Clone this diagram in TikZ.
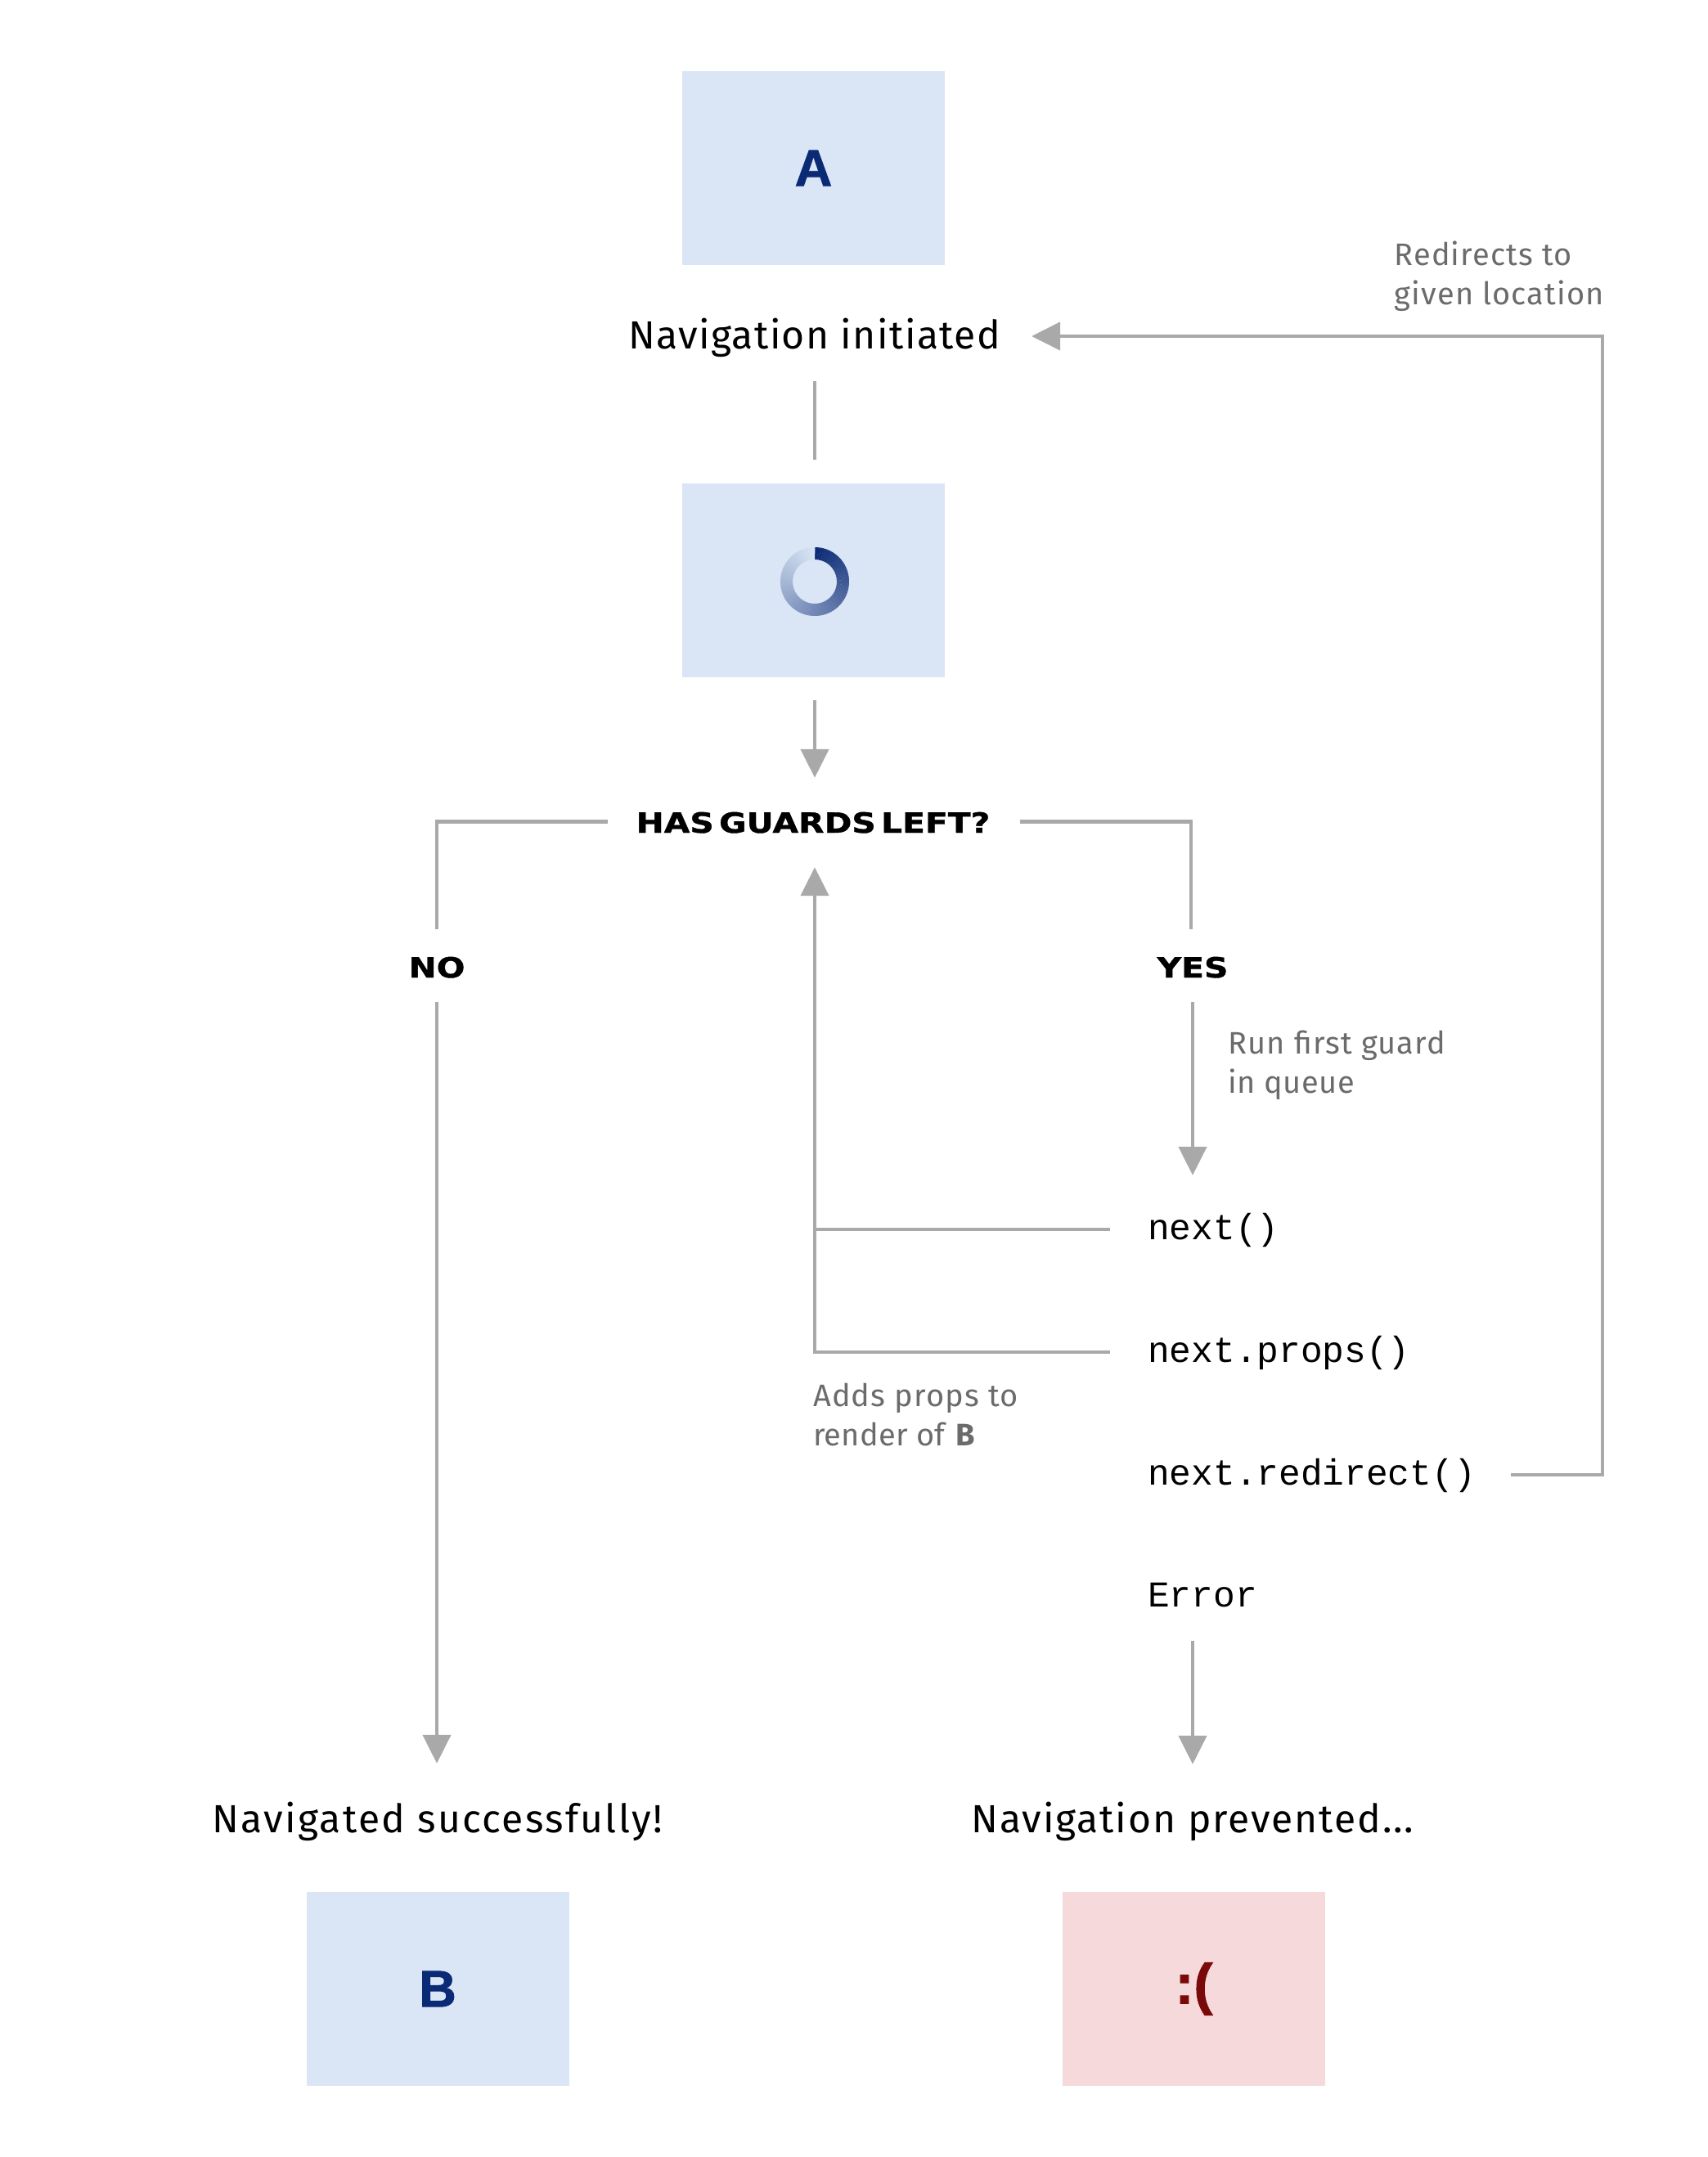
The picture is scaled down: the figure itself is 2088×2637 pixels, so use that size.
\documentclass[tikz,border=0pt]{standalone}
\usepackage{fontspec}
\usepackage{amsmath}
\setmainfont{Fira Sans}
\newfontfamily\wide[FakeStretch=1.2, WordSpace=0.45, BoldFeatures={FakeBold=1.2}]{DejaVu Sans}
\newfontfamily\code{Liberation Mono}
\newfontfamily\plain[LetterSpace=3]{Fira Sans}
\newfontfamily\heavy[BoldFeatures={FakeBold=1.5}]{Liberation Sans}
\usetikzlibrary{arrows.meta}
\definecolor{bx}{HTML}{DAE6F6}
\definecolor{pk}{HTML}{F5D9DB}
\definecolor{na}{HTML}{0B2A75}
\definecolor{dr}{HTML}{7A0A0A}
\definecolor{li}{HTML}{A9A9A9}
\definecolor{tx}{HTML}{6B6B6B}
\tikzset{
  screen/.style = {fill=bx, inner sep=0, minimum width=321pt, minimum height=237pt,
    text=na, font=\heavy\bfseries\fontsize{63}{70}\selectfont},
  status/.style = {inner sep=0, text height=41pt, text depth=11pt, anchor = base,
    font=\plain\fontsize{48}{58}\selectfont},
  call/.style = {inner sep=0, text height=32pt, text depth=8pt, anchor = base west,
    font=\code\fontsize{44.5}{54}\selectfont},
  tag/.style = {inner sep=0, text height=27pt, text depth=0pt, anchor = base,
    font=\wide\bfseries\fontsize{34}{40}\selectfont},
  note/.style = {inner sep=0, anchor = north west, align=left, text=tx,
    font=\plain\fontsize{38}{48}\selectfont},
  flow/.style = {draw=li, line width=4.5pt},
  flowtip/.style = {flow, -{Triangle[length=35pt, width=34pt]}}
}

\begin{document}
\begin{tikzpicture}[x=1pt, y=-1pt]

  % Page
  \path[use as bounding box, fill=white] (0,0) rectangle (2088,2637);

  % Screens
  \node[screen] (boxa) at (994.5,205.5) {A};
  \node[screen] (wait) at (994.5,709.5) {};
  \node[screen] (boxb) at (535,2431.5) {B};
  \node[screen, fill=pk, text=dr, font=\heavy\bfseries\fontsize{69}{70}\selectfont] (sad) at (1459.5,2431.5) {\raisebox{-4pt}{:(}};

  % Spinner
  \foreach \a in {0,3,...,357} {
    \pgfmathsetmacro{\p}{100-\a/3.6}
    \fill[na!\p!bx] (996,711) ++(\a-90:42) arc (\a-90:\a-86.6:42)
      -- ++(\a+93.4:15) arc (\a-86.6:\a-90:27) -- cycle;
  }

  % Texts
  \node[status] (init) at (995.5,426) {Navigation initiated};
  \node[tag] (guards) at (994,1018) {HAS GUARDS LEFT?};
  \node[tag] (no) at (534,1195) {NO};
  \node[tag] (yes) at (1458,1195) {YES};
  \node[call] (nextcall) at (1403,1515) {next()};
  \node[call] (nextprops) at (1403,1665) {next.props()};
  \node[call] (nextredirect) at (1403,1815) {next.redirect()};
  \node[call] (err) at (1403,1964) {Error};
  \node[status] (success) at (535,2240) {\addfontfeature{LetterSpace=4.8}Navigated successfully!};
  \node[status] (prevented) at (1458,2240) {\addfontfeature{LetterSpace=4}Navigation prevented...};

  % Notes
  \node[note] (redirectnote) at (1704.5,295) {Redirects to\\given location};
  \node[note] (guardnote) at (1501,1260) {Run first guard\\{\addfontfeature{LetterSpace=1.4}in queue}};
  \node[note] (propsnote) at (994,1691) {Adds props to\\{\addfontfeature{LetterSpace=0.5}render of} \textbf{B}};

  % Axis and bend
  \coordinate (axis) at (996,0);
  \coordinate (bend) at (1959,1803);

  % Start
  \draw[flow, shorten <=29pt, shorten >=29pt] (init.south -| axis) -- (wait.north -| axis);
  \draw[flowtip, shorten <=28pt, shorten >=40pt] (wait.south -| axis) -- (guards.north -| axis);

  % No
  \draw[flow, shorten <=34pt, shorten >=32pt] (guards.west) -| (no.north);
  \draw[flowtip, shorten <=30pt, shorten >=43pt] (no.south) -- (success.north -| no);

  % Yes
  \draw[flow, shorten <=36pt, shorten >=32pt] (guards.east) -| ([xshift=-2pt]yes.north);
  \draw[flowtip, shorten <=30pt, shorten >=46pt] (yes.south) -- (nextcall.north -| yes);

  % Back to guards
  \draw[flowtip, shorten <=46pt, shorten >=42pt] (nextprops.west) -| (guards.south -| axis);
  \draw[flow, shorten <=46pt] (nextcall.west) -- (nextcall.west -| axis);

  % Redirect
  \draw[flowtip, shorten <=43pt, shorten >=38pt] (nextredirect.east) -- (bend) |- (init.east);

  % Error
  \draw[flowtip, shorten <=34pt, shorten >=42pt] (err.south -| prevented) -- (prevented.north);
\end{tikzpicture}
\end{document}
